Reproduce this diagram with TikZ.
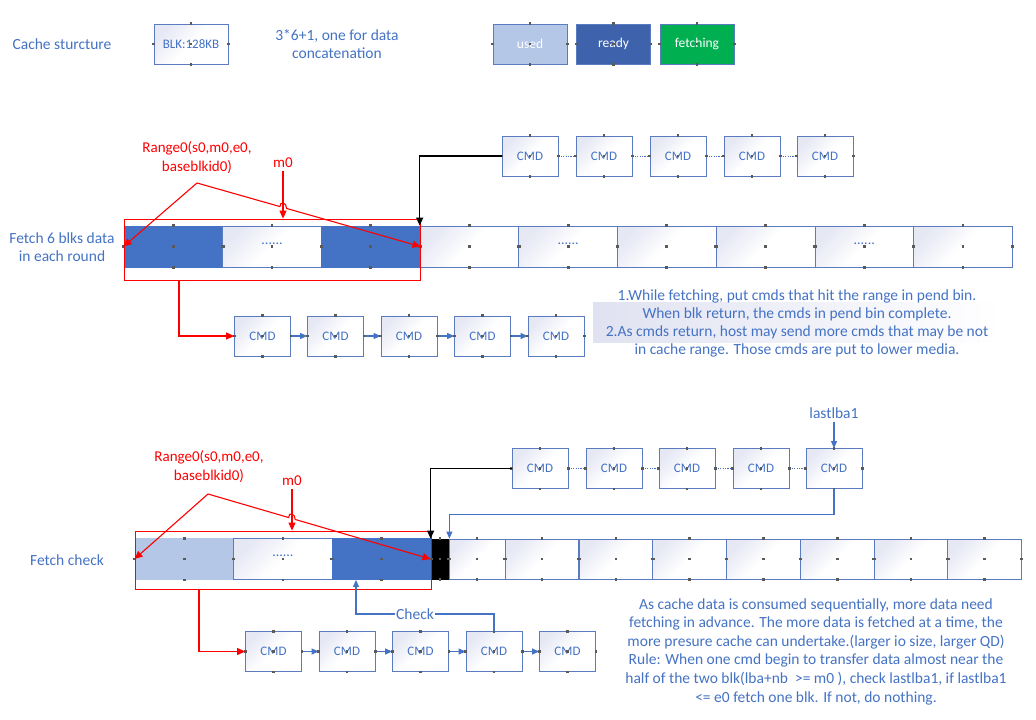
\documentclass[tikz,border=0pt]{standalone}
\usepackage{fontspec}
\setmainfont{Carlito}
\usetikzlibrary{arrows.meta,calc}
\definecolor{txtblue}{HTML}{4472C4}
\definecolor{bord}{HTML}{5B7BC0}
\definecolor{rdy}{HTML}{4472C4}
\definecolor{darkrdy}{HTML}{3F62AC}
\definecolor{usedc}{HTML}{B4C7E7}
\definecolor{fetchc}{HTML}{00B050}
\definecolor{lav}{HTML}{E0E2F1}
\definecolor{lavbox}{HTML}{E6E8F4}
\definecolor{ptc}{HTML}{5A5A5A}
\definecolor{redc}{HTML}{FF0000}
\newcommand\cpts[1]{\foreach \an in {north,south,east,west,center}{\fill[ptc] (#1.\an) ++(-1.4,-1.4) rectangle ++(2.8,2.8);}}
\begin{document}
\begin{tikzpicture}[x=1pt,y=-1pt,
  box/.style={draw=bord, line width=0.8pt, inner sep=0pt, top color=lavbox, bottom color=white, middle color=white, shading angle=45, text=txtblue, font=\fontsize{13}{15}\selectfont},
  cmdbox/.style={box, minimum width=56pt, minimum height=40pt},
  blkbox/.style={box, minimum width=98.7pt, minimum height=41pt},
  smallbox/.style={box, minimum width=74pt, minimum height=40pt},
  filledbox/.style={draw=#1, fill=#1, line width=0.8pt, inner sep=0pt, minimum width=98.7pt, minimum height=41pt},
  legend/.style={draw=bord, line width=0.8pt, inner sep=0pt, minimum width=74pt, minimum height=40pt, text=white, font=\fontsize{13.5}{15}\selectfont},
  lbl/.style={text=txtblue, font=\fontsize{15.5}{18}\selectfont, align=center},
  redlbl/.style={text=redc, font=\fontsize{15}{19}\selectfont, align=center},
  redline/.style={draw=redc, line width=1.1pt},
  redarrow/.style={redline, -{Triangle[length=8pt,width=7pt]}},
  bluearrow/.style={draw=txtblue, line width=1.1pt, -{Triangle[length=7pt,width=6pt]}},
  dotline/.style={draw=txtblue, line width=1pt, dash pattern=on 1.2pt off 1.2pt},
  blackarrow/.style={draw=black, line width=1.1pt, -{Triangle[length=8pt,width=7pt]}},
  dots/.style={text=txtblue, font=\fontsize{14}{15}\selectfont}
]
\useasboundingbox (0,0) rectangle (1036,720);

% ---------- legend row ----------
\node[lbl] (cs) at (62,44) {Cache sturcture};
\node[smallbox] (blk) at (191,44) {BLK:128KB};
\node[lbl] (note0) at (337,44) {3*6+1, one for data\\concatenation};
\node[legend, fill=usedc] (used) at (530,44) {used};
\node[legend, fill=darkrdy] (ready) at (613.5,44) {ready};
\node[legend, fill=fetchc] (fetching) at (697,44) {fetching};
\foreach \n in {blk,used,ready,fetching} {\cpts{\n}}

% ---------- section 1 ----------
\node[lbl] (lab1) at (62,247) {Fetch 6 blks data\\in each round};

\node[filledbox=rdy] (a1) at (173.35,246.5) {};
\node[blkbox] (a2) at (272.05,246.5) {};
\node[dots] at (272.05,243.5) {......};
\node[filledbox=rdy] (a3) at (370.75,246.5) {};
\node[blkbox] (a4) at (469.45,246.5) {};
\node[blkbox] (a5) at (568.15,246.5) {};
\node[dots] at (568.15,243.5) {......};
\node[blkbox] (a6) at (666.85,246.5) {};
\node[blkbox] (a7) at (765.55,246.5) {};
\node[blkbox] (a8) at (864.25,246.5) {};
\node[dots] at (864.25,243.5) {......};
\node[blkbox] (a9) at (962.95,246.5) {};
\foreach \n in {a1,a2,a3,a4,a5,a6,a7,a8,a9} {\cpts{\n}}

\node[draw=redc, line width=0.8pt, minimum width=296pt, minimum height=61pt, inner sep=0pt] (rr1) at (272,249.5) {};

\foreach \i/\x in {1/530,2/604,3/678,4/752,5/825} {\node[cmdbox] (t\i) at (\x,156) {CMD};}
\foreach \i/\j in {1/2,2/3,3/4,4/5} {\draw[dotline] (t\i.east) -- (t\j.west);}
\foreach \n in {t1,t2,t3,t4,t5} {\cpts{\n}}
\draw[blackarrow] (t1.west) -| (a4.north west);

\node[redlbl] (rg1) at (197,158) {Range0(s0,m0,e0,\\baseblkid0)};
\node[redlbl] (m01) at (283,163) {m0};
\coordinate (rp1) at (197,183);
\draw[redarrow] (m01.south) -- (m01.south |- rr1.north);
\draw[redarrow] (rp1) -- (a1.west);
\draw[redarrow] (rp1) -- ($(rp1)!0.371!(a3.east)$) .. controls +(0,-6) and +(0,-6) .. ($(rp1)!0.401!(a3.east)$) -- (a3.east);

\foreach \i/\x in {1/262.5,2/335.5,3/409,4/482.5,5/556} {\node[cmdbox] (c\i) at (\x,336) {CMD};}
\foreach \i/\j in {1/2,2/3,3/4,4/5} {\draw[bluearrow] (c\i.east) -- (c\j.west);}
\foreach \n in {c1,c2,c3,c4,c5} {\cpts{\n}}
\coordinate (rb1) at (179,280);
\draw[redarrow] (rb1) |- (c1.west);

\shade[left color=lav, right color=white] (593,302) rectangle (1000,342);
\node[lbl] (txt1) at (797,323) {1.While fetching, put cmds that hit the range in pend bin.\\When blk return, the cmds in pend bin complete.\\2.As cmds return, host may send more cmds that may be not\\in cache range. Those cmds are put to lower media.};

% ---------- section 2 ----------
\node[lbl] (lab2) at (67,560) {Fetch check};

\node[filledbox=usedc] (g1) at (184.3,559) {};
\node[blkbox] (g2) at (282.9,559) {};
\node[dots] at (282.9,556) {......};
\node[filledbox=rdy] (g3) at (381.6,559) {};
\node[draw=black, fill=black, line width=0.8pt, inner sep=0pt, minimum width=18pt, minimum height=40pt] (k) at (440,559) {};
\node[box, minimum width=56pt, minimum height=40pt] (h1) at (477,559) {};
\foreach \i/\x in {2/542,3/616,4/689.7,5/763.5,6/837.2,7/911,8/984.6} {\node[box, minimum width=73.7pt, minimum height=40pt] (h\i) at (\x,559) {};}
\foreach \n in {g1,g2,g3,k,h1,h2,h3,h4,h5,h6,h7,h8} {\cpts{\n}}

\node[draw=redc, line width=0.8pt, minimum width=296pt, minimum height=58pt, inner sep=0pt] (rr2) at (283,560) {};

\foreach \i/\x in {1/540,2/614,3/687,4/761,5/834} {\node[cmdbox] (u\i) at (\x,468.5) {CMD};}
\foreach \i/\j in {1/2,2/3,3/4,4/5} {\draw[dotline] (u\i.east) -- (u\j.west);}
\foreach \n in {u1,u2,u3,u4,u5} {\cpts{\n}}
\draw[blackarrow] (u1.west) -| (k.north west);
\draw[bluearrow] (u5.south) |- ($(k.north east)+(0,-24)$) -- (k.north east);
\node[lbl] (ll) at (834,413) {lastlba1};
\draw[bluearrow] (ll.south) -- (u5.north);

\node[redlbl] (rg2) at (209,467) {Range0(s0,m0,e0,\\baseblkid0)};
\node[redlbl] (m02) at (292,481) {m0};
\coordinate (rp2) at (208,494);
\draw[redarrow] (m02.south) -- (m02.south |- rr2.north);
\draw[redarrow] (rp2) -- (g1.west);
\draw[redarrow] (rp2) -- ($(rp2)!0.362!(k.west)$) .. controls +(0,-6) and +(0,-6) .. ($(rp2)!0.392!(k.west)$) -- (k.west);

\foreach \i/\x in {1/273.5,2/347,3/420.5,4/494,5/567.5} {\node[cmdbox] (d\i) at (\x,651.5) {CMD};}
\foreach \i/\j in {1/2,2/3,3/4,4/5} {\draw[bluearrow] (d\i.east) -- (d\j.west);}
\foreach \n in {d1,d2,d3,d4,d5} {\cpts{\n}}
\coordinate (rb2) at (199,589);
\draw[redarrow] (rb2) |- (d1.west);

\coordinate (chk) at (356,614);
\draw[bluearrow] (d4.north) |- (chk) -- (chk |- g3.south);
\node[lbl, fill=white, inner sep=1pt] (chklbl) at (415,614) {Check};

\node[lbl, font=\fontsize{15.5}{18.6}\selectfont] (txt2) at (816,651.5) {As cache data is consumed sequentially, more data need\\fetching in advance. The more data is fetched at a time, the\\more presure cache can undertake.(larger io size, larger QD)\\Rule: When one cmd begin to transfer data almost near the\\half of the two blk(lba+nb~~>= m0 ), check lastlba1, if lastlba1\\<= e0 fetch one blk. If not, do nothing.};
\end{tikzpicture}
\end{document}
